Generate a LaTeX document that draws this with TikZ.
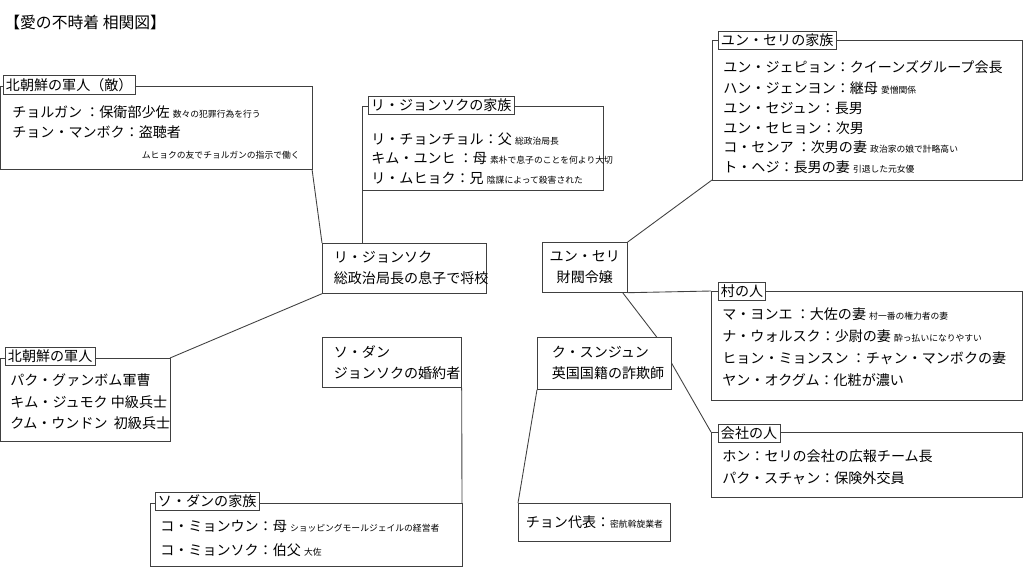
\documentclass[tikz,border=0pt]{standalone}
\usepackage{fontspec}
\setmainfont{Noto Sans CJK JP}
\usetikzlibrary{positioning}
\newcommand{\nt}[1]{{\fontsize{5}{6}\selectfont #1}}
\tikzset{
  grp/.style={draw=black!75, line width=0.5pt},
  tab/.style={draw=black!75, fill=white, inner sep=1.5pt, anchor=north west, font=\fontsize{8}{9}\selectfont},
  txt/.style={anchor=west, inner sep=0pt, font=\fontsize{8}{9}\selectfont},
  who/.style={draw=black!75, anchor=north west, align=left, inner sep=0pt, font=\fontsize{8}{9}\selectfont},
  link/.style={draw=black!75, line width=0.5pt}
}
\begin{document}
\begin{tikzpicture}[x=0.02cm, y=-0.02cm]
    \useasboundingbox (0,0) rectangle (1024,586);
    \node[txt, font=\fontsize{9}{10}\selectfont] (title) at (4,22) {【愛の不時着 相関図】};

    % north korean soldiers (enemy)
    \coordinate (gA1) at (0,86); \coordinate (gA2) at (312,169);
    \draw[grp] (gA1) rectangle (gA2);
    \node[tab] (tA) at (3,75) {北朝鮮の軍人（敵）};
    \node[txt] (a1) at (12,112) {チョルガン ：保衛部少佐 \nt{数々の犯罪行為を行う}};
    \node[txt] (a2) at (12,132) {チョン・マンボク：盗聴者};
    \node[txt, anchor=east] (a3) at (300,155) {\nt{ムヒョクの友でチョルガンの指示で働く}};

    % family of jeongsok
    \coordinate (gB1) at (362,106); \coordinate (gB2) at (603,190);
    \draw[grp] (gB1) rectangle (gB2);
    \node[tab] (tB) at (368,96) {リ・ジョンソクの家族};
    \node[txt] (b1) at (371,139) {リ・チョンチョル：父 \nt{総政治局長}};
    \node[txt] (b2) at (371,159) {キム・ユンヒ ：母 \nt{素朴で息子のことを何より大切}};
    \node[txt] (b3) at (371,178) {リ・ムヒョク：兄 \nt{陰謀によって殺害された}};

    \node[who, minimum width=3.28cm, minimum height=1cm, text width=3.1cm] (ljs) at (322,243)
        {\hspace*{0.14cm}リ・ジョンソク\\[3pt]\hspace*{0.14cm}総政治局長の息子で将校};

    % north korean soldiers
    \coordinate (gC1) at (0,358); \coordinate (gC2) at (170,441);
    \draw[grp] (gC1) rectangle (gC2);
    \node[tab] (tC) at (5,347) {北朝鮮の軍人};
    \node[txt] (c1) at (10,380) {パク・グァンボム軍曹};
    \node[txt] (c2) at (10,402) {キム・ジュモク\ 中級兵士};
    \node[txt] (c3) at (10,423) {クム・ウンドン\ \ 初級兵士};

    \node[who, minimum width=2.78cm, minimum height=1cm, text width=2.6cm] (sd) at (322,337)
        {\hspace*{0.14cm}ソ・ダン\\[3pt]\hspace*{0.14cm}ジョンソクの婚約者};

    % family of seo dan
    \coordinate (gD1) at (150,503); \coordinate (gD2) at (462,566);
    \draw[grp] (gD1) rectangle (gD2);
    \node[tab] (tD) at (155,492) {ソ・ダンの家族};
    \node[txt] (d1) at (160,526) {コ・ミョンウン：母 \nt{ショッピングモールジェイルの経営者}};
    \node[txt] (d2) at (160,550) {コ・ミョンソク：伯父 \nt{大佐}};

    \node[who, minimum width=2.68cm, minimum height=1.04cm, text width=2.5cm] (ksj) at (537,337)
        {\hspace*{0.2cm}ク・スンジュン\\[3pt]\hspace*{0.2cm}英国国籍の詐欺師};
    \node[who, minimum width=3.04cm, minimum height=0.76cm, text width=2.9cm] (ch) at (518,503)
        {\hspace*{0.08cm}チョン代表：\nt{密航斡旋業者}};

    \node[who, minimum width=1.7cm, minimum height=1cm, align=center, text width=1.7cm] (ysr) at (542,242)
        {ユン・セリ\\[3pt]財閥令嬢};

    % family of seri
    \coordinate (gE1) at (712,40); \coordinate (gE2) at (1022,180);
    \draw[grp] (gE1) rectangle (gE2);
    \node[tab] (tE) at (718,31) {ユン・セリの家族};
    \node[txt] (e1) at (723,67) {ユン・ジェピョン：クイーンズグループ会長};
    \node[txt] (e2) at (723,88) {ハン・ジェンヨン：継母 \nt{愛憎関係}};
    \node[txt] (e3) at (723,108) {ユン・セジュン：長男};
    \node[txt] (e4) at (723,128) {ユン・セヒョン：次男};
    \node[txt] (e5) at (723,147) {コ・センア ：次男の妻 \nt{政治家の娘で計略高い}};
    \node[txt] (e6) at (723,167) {ト・ヘジ：長男の妻 \nt{引退した元女優}};

    % villagers
    \coordinate (gF1) at (711,291); \coordinate (gF2) at (1022,400);
    \draw[grp] (gF1) rectangle (gF2);
    \node[tab] (tF) at (718,282) {村の人};
    \node[txt] (f1) at (722,314) {マ・ヨンエ ：大佐の妻 \nt{村一番の権力者の妻}};
    \node[txt] (f2) at (722,336) {ナ・ウォルスク：少尉の妻 \nt{酔っ払いになりやすい}};
    \node[txt] (f3) at (722,358) {ヒョン・ミョンスン ：チャン・マンボクの妻};
    \node[txt] (f4) at (722,380) {ヤン・オクグム：化粧が濃い};

    % company people
    \coordinate (gG1) at (711,432); \coordinate (gG2) at (1022,497);
    \draw[grp] (gG1) rectangle (gG2);
    \node[tab] (tG) at (718,424) {会社の人};
    \node[txt] (g1) at (722,456) {ホン：セリの会社の広報チーム長};
    \node[txt] (g2) at (722,478) {パク・スチャン：保険外交員};

    % connectors
    \draw[link] (gA2) -- (ljs.north west);
    \draw[link] (gB1 |- gB2) -- (gB1 |- ljs.north);
    \draw[link] (ljs.south west) -- (gC2 |- gC1);
    \draw[link] (sd.south east) -- (gD2 |- gD1);
    \draw[link] (ksj.south west) -- (ch.north west);
    \draw[link] (ksj.east) -- (gG1);
    \draw[link] (ysr.north east) -- (gE1 |- gE2);
    \draw[link] (ysr.south east) -- (gF1);
    \draw[link] ([xshift=-0.1cm]ysr.south east) -- ([xshift=-0.3cm]ksj.north east);
\end{tikzpicture}
\end{document}
